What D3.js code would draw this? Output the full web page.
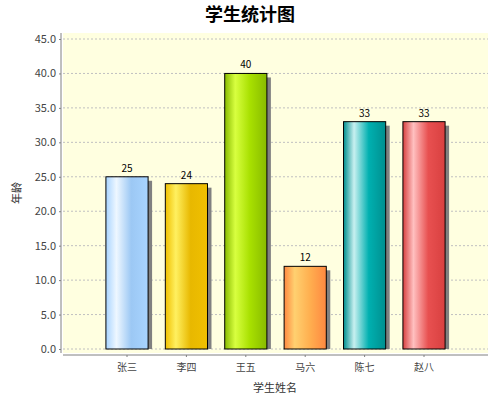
<!DOCTYPE html>
<html><head><meta charset="utf-8">
<script src="https://cdn.jsdelivr.net/npm/d3@7"></script>
<style>body{margin:0;background:#fff}text{font-family:"Noto Sans CJK SC","DejaVu Sans",sans-serif}</style>
</head><body><div id="chart"></div>
<script>
const names = ['张三', '李四', '王五', '马六', '陈七', '赵八'];
const ages = [25, 24, 40, 12, 33, 33];
const yTicks = [0, 5, 10, 15, 20, 25, 30, 35, 40, 45];
const palette = [
  ['#a8d4ff', '#eef7ff', '#9cc8f4'],
  ['#f0c000', '#fff060', '#e8b800'],
  ['#88bb00', '#d8ff40', '#a8e000'],
  ['#ff8840', '#ffd070', '#ffb050'],
  ['#008f8f', '#c8f0f0', '#00b0b0'],
  ['#d84040', '#ffc0c0', '#e85050']
];

const w = 500, h = 400;
const plot = {l: 63, r: 488, t: 33, b: 353};
const svg = d3.select('#chart').append('svg').attr('width', w).attr('height', h);
const defs = svg.append('defs');
palette.forEach((c, i) => {
  const g = defs.append('linearGradient').attr('id', 'g' + i).attr('x1', 0).attr('x2', 1).attr('y1', 0).attr('y2', 0);
  g.append('stop').attr('offset', '0%').attr('stop-color', c[0]);
  g.append('stop').attr('offset', '25%').attr('stop-color', c[1]);
  g.append('stop').attr('offset', '60%').attr('stop-color', c[2]);
  g.append('stop').attr('offset', '100%').attr('stop-color', c[0]);
});

const x = d3.scaleBand().domain(names).range([97.3, 453.7]).paddingInner(0.29).paddingOuter(0.145);
const y = d3.scaleLinear().domain([0, 45]).range([349, 39]);

svg.append('rect').attr('x', plot.l).attr('y', plot.t).attr('width', plot.r - plot.l).attr('height', plot.b - plot.t)
  .attr('fill', '#ffffe0');
svg.selectAll('.grid').data(yTicks).enter().append('line')
  .attr('x1', plot.l).attr('x2', plot.r).attr('y1', d => y(d)).attr('y2', d => y(d))
  .attr('stroke', '#c0c0c0').attr('stroke-dasharray', '2,2');

svg.selectAll('.shadow').data(ages).enter().append('rect')
  .attr('x', (d, i) => x(names[i]) + 4).attr('y', d => y(d) + 4)
  .attr('width', x.bandwidth()).attr('height', d => y(0) - y(d) - 4).attr('fill', '#808080');
svg.selectAll('.bar').data(ages).enter().append('rect')
  .attr('x', (d, i) => x(names[i])).attr('y', d => y(d))
  .attr('width', x.bandwidth()).attr('height', d => y(0) - y(d))
  .attr('fill', (d, i) => `url(#g${i})`).attr('stroke', '#000').attr('stroke-width', 1);
svg.selectAll('.val').data(ages).enter().append('text')
  .attr('x', (d, i) => x(names[i]) + x.bandwidth() / 2).attr('y', d => y(d) - 5)
  .attr('text-anchor', 'middle').attr('font-size', 10).attr('font-family', 'DejaVu Sans').text(d => d);

const yAxis = svg.append('g').attr('transform', `translate(${plot.l - 2},0)`)
  .call(d3.axisLeft(y).tickValues(yTicks).tickFormat(d3.format('.1f')).tickSize(2).tickSizeOuter(0));
yAxis.select('.domain').attr('d', `M0,${plot.t}V${plot.b}`).attr('stroke', '#808080');
yAxis.selectAll('text').attr('font-size', 11).attr('fill', '#444').attr('font-family', 'DejaVu Sans');
yAxis.selectAll('line').attr('stroke', '#808080');

const xAxis = svg.append('g').attr('transform', `translate(0,${plot.b + 2})`)
  .call(d3.axisBottom(x).tickSize(2).tickSizeOuter(0));
xAxis.select('.domain').attr('d', `M${plot.l},0H${plot.r}`).attr('stroke', '#808080');
xAxis.selectAll('text').attr('font-size', 10).attr('fill', '#444').attr('dy', '1.1em');
xAxis.selectAll('line').attr('stroke', '#808080');

svg.append('text').attr('x', 250).attr('y', 21).attr('text-anchor', 'middle')
  .attr('font-size', 18).attr('font-weight', 'bold').text('学生统计图');
svg.append('text').attr('x', 275).attr('y', 392).attr('text-anchor', 'middle')
  .attr('font-size', 11).attr('fill', '#333').text('学生姓名');
svg.append('text').attr('transform', 'translate(21,193) rotate(-90)').attr('text-anchor', 'middle')
  .attr('font-size', 11).attr('fill', '#333').text('年龄');
</script></body></html>
